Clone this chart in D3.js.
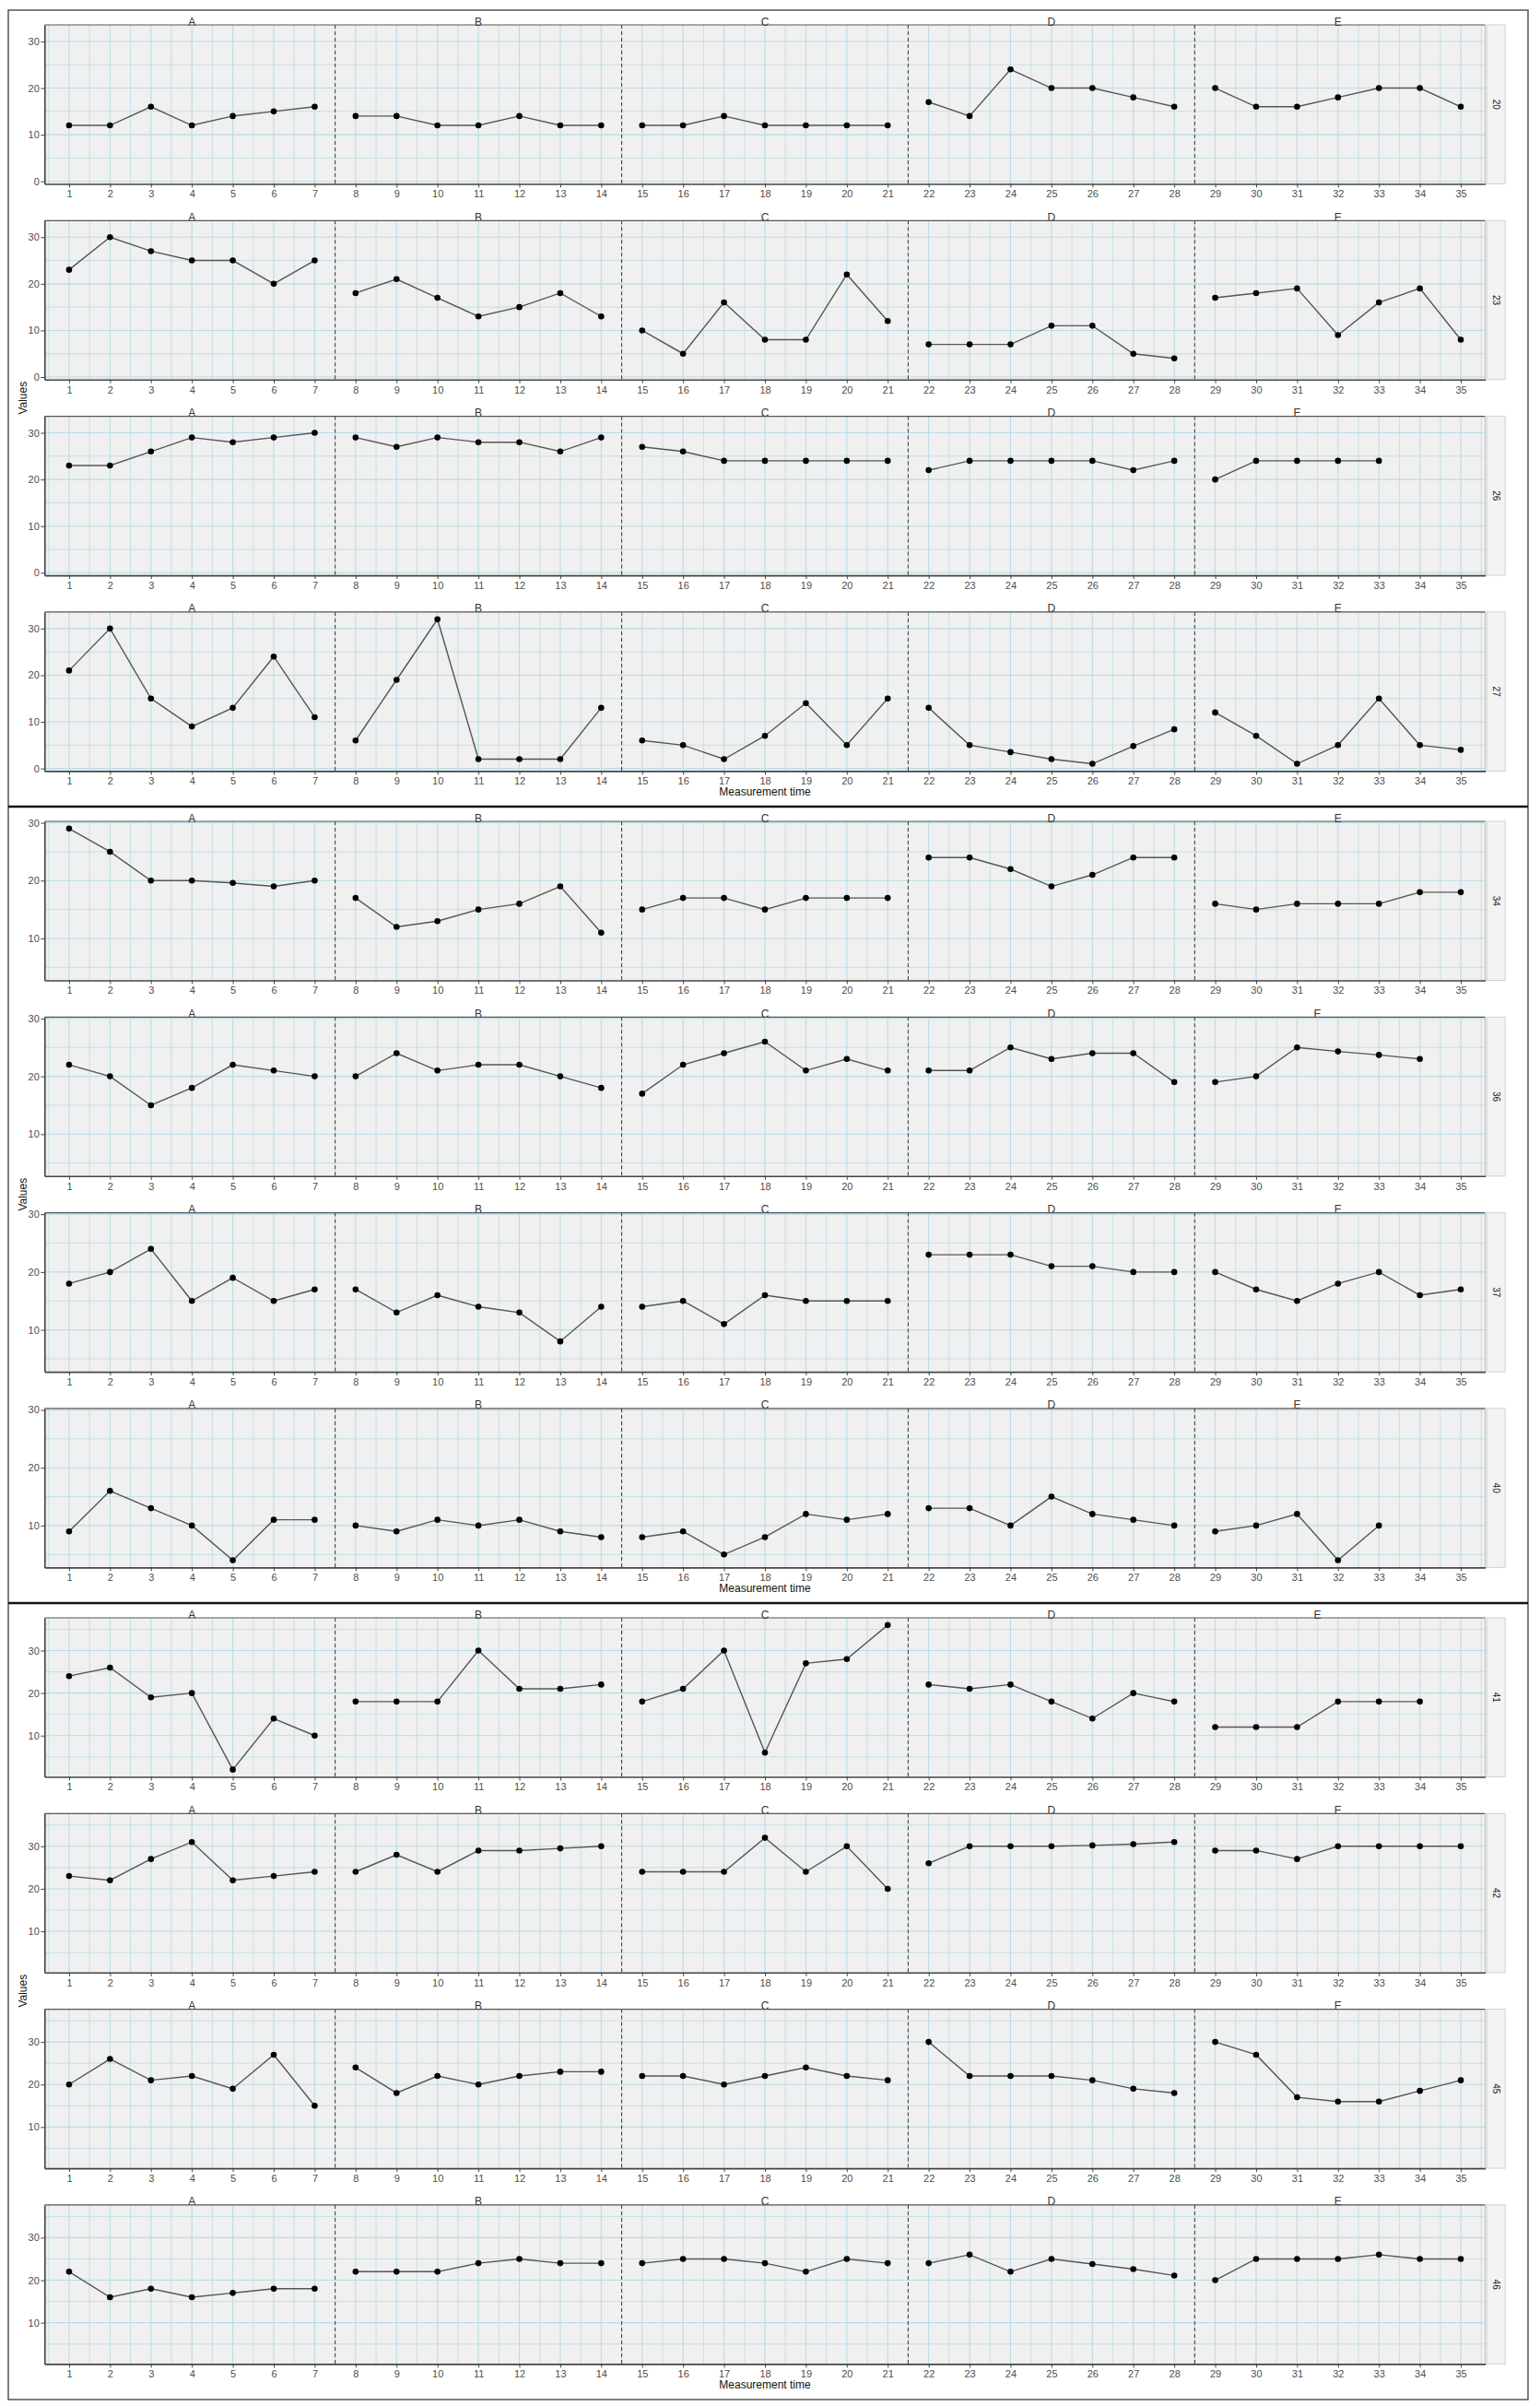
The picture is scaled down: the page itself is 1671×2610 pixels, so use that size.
<!DOCTYPE html>
<html>
<head>
<meta charset="utf-8">
<script src="https://cdn.jsdelivr.net/npm/d3@7"></script>
<style>
  body { margin: 0; background: #fff; }
  svg text { font-family: "Liberation Sans", Arial, sans-serif; }
</style>
</head>
<body>
<div id="chart"></div>
<script>
// ------------------------------- DATA ----------------------------------------
var times = [1, 2, 3, 4, 5, 6, 7, 8, 9, 10, 11, 12, 13, 14, 15, 16, 17, 18,
             19, 20, 21, 22, 23, 24, 25, 26, 27, 28, 29, 30, 31, 32, 33, 34, 35];
var phases = ["A", "B", "C", "D", "E"];
var phaseEnds = [7, 14, 21, 28, 35];       // last measurement time of each phase
var phaseBreaks = [7.5, 14.5, 21.5, 28.5]; // dashed lines
var blocks = [["20", "23", "26", "27"], ["34", "36", "37", "40"], ["41", "42", "45", "46"]];

// one value per measurement time (null = not measured)
var p20 = [12, 12, 16, 12, 14, 15, 16,  14, 14, 12, 12, 14, 12, 12,  12, 12, 14, 12, 12, 12, 12,
           17, 14, 24, 20, 20, 18, 16,  20, 16, 16, 18, 20, 20, 16];
var p23 = [23, 30, 27, 25, 25, 20, 25,  18, 21, 17, 13, 15, 18, 13,  10, 5, 16, 8, 8, 22, 12,
           7, 7, 7, 11, 11, 5, 4,  17, 18, 19, 9, 16, 19, 8];
var p26 = [23, 23, 26, 29, 28, 29, 30,  29, 27, 29, 28, 28, 26, 29,  27, 26, 24, 24, 24, 24, 24,
           22, 24, 24, 24, 24, 22, 24,  20, 24, 24, 24, 24, null, null];
var p27 = [21, 30, 15, 9, 13, 24, 11,  6, 19, 32, 2, 2, 2, 13,  6, 5, 2, 7, 14, 5, 15,
           13, 5, 3.5, 2, 1, 4.8, 8.4,  12, 7, 1, 5, 15, 5, 4];
var p34 = [29, 25, 20, 20, 19.6, 19, 20,  17, 12, 13, 15, 16, 19, 11,  15, 17, 17, 15, 17, 17, 17,
           24, 24, 22, 19, 21, 24, 24,  16, 15, 16, 16, 16, 18, 18];
var p36 = [22, 20, 15, 18, 22, 21, 20,  20, 24, 21, 22, 22, 20, 18,  17, 22, 24, 26, 21, 23, 21,
           21, 21, 25, 23, 24, 24, 19,  19, 20, 25, 24.3, 23.7, 23, null];
var p37 = [18, 20, 24, 15, 19, 15, 17,  17, 13, 16, 14, 13, 8, 14,  14, 15, 11, 16, 15, 15, 15,
           23, 23, 23, 21, 21, 20, 20,  20, 17, 15, 18, 20, 16, 17];
var p40 = [9, 16, 13, 10, 4, 11, 11,  10, 9, 11, 10, 11, 9, 8,  8, 9, 5, 8, 12, 11, 12,
           13, 13, 10, 15, 12, 11, 10,  9, 10, 12, 4, 10, null, null];
var p41 = [24, 26, 19, 20, 2, 14, 10,  18, 18, 18, 30, 21, 21, 22,  18, 21, 30, 6, 27, 28, 36,
           22, 21, 22, 18, 14, 20, 18,  12, 12, 12, 18, 18, 18, null];
var p42 = [23, 22, 27, 31, 22, 23, 24,  24, 28, 24, 29, 29, 29.5, 30,  24, 24, 24, 32, 24, 30, 20,
           26, 30, 30, 30, 30.2, 30.5, 31,  29, 29, 27, 30, 30, 30, 30];
var p45 = [20, 26, 21, 22, 19, 27, 15,  24, 18, 22, 20, 22, 23, 23,  22, 22, 20, 22, 24, 22, 21,
           30, 22, 22, 22, 21, 19, 18,  30, 27, 17, 16, 16, 18.5, 21];
var p46 = [22, 16, 18, 16, 17, 18, 18,  22, 22, 22, 24, 25, 24, 24,  24, 25, 25, 24, 22, 25, 24,
           24, 26, 22, 25, 23.8, 22.6, 21.1,  20, 25, 25, 25, 26, 25, 25];

var series = {"20": p20, "23": p23, "26": p26, "27": p27, "34": p34, "36": p36,
              "37": p37, "40": p40, "41": p41, "42": p42, "45": p45, "46": p46};

// ------------------------------ LAYOUT ---------------------------------------
var svgWidth = 1671, svgHeight = 2610;
var panelLeft = 48.3, panelRight = 1611.7;
var blockTops = [11, 875, 1739];
var rowOffset = 16, rowPitch = 212.3, panelHeight = 172.5;

var gridColor = "#b9dbe7";
var tickColor = "#4d4d4d";

var svg = d3.select("#chart").append("svg")
  .attr("width", svgWidth)
  .attr("height", svgHeight);

var x = d3.scaleLinear().domain([0.4, 35.6]).range([panelLeft, panelRight]);

function phaseIndex(t) {
  return phaseEnds.findIndex(function(e) { return t <= e; });
}

blocks.forEach(function(ids, b) {
  // shared y scale for the block, 5% expansion like ggplot
  var all = [];
  ids.forEach(function(id) {
    series[id].forEach(function(v) { if (v != null) all.push(v); });
  });
  var lo = d3.min(all), hi = d3.max(all), pad = (hi - lo) * 0.05;
  var y = d3.scaleLinear().domain([lo - pad, hi + pad]).range([panelHeight, 0]);
  var major = y.ticks(3);
  var step = major[1] - major[0];
  var minor = [];
  major.forEach(function(m) { minor.push(m - step / 2); });
  minor.push(major[major.length - 1] + step / 2);
  minor = minor.filter(function(m) {
    return m >= y.domain()[0] && m <= y.domain()[1];
  });

  var xMinor = times.map(function(t) { return t - 0.5; }).concat([35.5]);

  ids.forEach(function(id, r) {
    var top = blockTops[b] + rowOffset + r * rowPitch;
    var g = svg.append("g").attr("transform", "translate(0," + top + ")");
    var pts = times.map(function(t, i) {
      return {t: t, v: series[id][i], phase: phaseIndex(t)};
    });

    // panel background
    g.append("rect")
      .attr("x", panelLeft).attr("y", 0)
      .attr("width", panelRight - panelLeft).attr("height", panelHeight)
      .attr("fill", "#f0f0f0");

    // grid
    g.selectAll(null).data(minor).enter().append("line")
      .attr("x1", panelLeft).attr("x2", panelRight)
      .attr("y1", d => y(d)).attr("y2", d => y(d))
      .attr("stroke", gridColor).attr("stroke-width", 0.8);
    g.selectAll(null).data(major).enter().append("line")
      .attr("x1", panelLeft).attr("x2", panelRight)
      .attr("y1", d => y(d)).attr("y2", d => y(d))
      .attr("stroke", gridColor).attr("stroke-width", 1.1);
    g.selectAll(null).data(xMinor).enter().append("line")
      .attr("x1", d => x(d)).attr("x2", d => x(d))
      .attr("y1", 0).attr("y2", panelHeight)
      .attr("stroke", gridColor).attr("stroke-width", 0.8);
    g.selectAll(null).data(times).enter().append("line")
      .attr("x1", d => x(d)).attr("x2", d => x(d))
      .attr("y1", 0).attr("y2", panelHeight)
      .attr("stroke", gridColor).attr("stroke-width", 1.1);

    // phase separators
    g.selectAll(null).data(phaseBreaks).enter().append("line")
      .attr("x1", d => x(d)).attr("x2", d => x(d))
      .attr("y1", 0).attr("y2", panelHeight)
      .attr("stroke", "#444").attr("stroke-width", 1.1)
      .attr("stroke-dasharray", "4,3");

    // lines, one per phase
    var line = d3.line()
      .defined(d => d.v != null)
      .x(d => x(d.t))
      .y(d => y(d.v));
    phases.forEach(function(p, k) {
      g.append("path")
        .datum(pts.filter(d => d.phase === k))
        .attr("fill", "none")
        .attr("stroke", "#555")
        .attr("stroke-width", 1.4)
        .attr("d", line);
    });

    // points
    g.selectAll(null).data(pts.filter(d => d.v != null)).enter().append("circle")
      .attr("cx", d => x(d.t)).attr("cy", d => y(d.v))
      .attr("r", 3.3).attr("fill", "#000");

    // phase labels at the centre of the measured times
    phases.forEach(function(p, k) {
      var ts = pts.filter(d => d.phase === k && d.v != null).map(d => d.t);
      g.append("text")
        .attr("x", x(d3.mean(ts))).attr("y", 0.5)
        .attr("text-anchor", "middle")
        .attr("font-size", "12px")
        .attr("fill", "#333")
        .text(p);
    });

    // panel borders
    g.append("line").attr("x1", panelLeft).attr("x2", panelRight)
      .attr("y1", 0).attr("y2", 0).attr("stroke", "#555").attr("stroke-width", 1.2);
    g.append("line").attr("x1", panelRight).attr("x2", panelRight)
      .attr("y1", 0).attr("y2", panelHeight).attr("stroke", "#bbb").attr("stroke-width", 1);

    // axes
    var yAxis = d3.axisLeft(y).tickValues(major).tickSize(4).tickSizeOuter(0).tickPadding(1.5);
    var xAxis = d3.axisBottom(x).tickValues(times).tickSize(4).tickSizeOuter(0).tickPadding(3);
    var ya = g.append("g").attr("transform", "translate(" + panelLeft + ",0)").call(yAxis);
    var xa = g.append("g").attr("transform", "translate(0," + panelHeight + ")").call(xAxis);
    [ya, xa].forEach(function(a) {
      a.select(".domain").attr("stroke", "#444").attr("stroke-width", 1.6);
      a.selectAll(".tick line").attr("stroke", "#444").attr("stroke-width", 1);
      a.selectAll(".tick text").attr("fill", tickColor).attr("font-size", "11px")
        .attr("font-family", "'Liberation Sans', Arial, sans-serif");
    });

    // strip on the right
    g.append("rect")
      .attr("x", panelRight + 1.5).attr("y", 0)
      .attr("width", 20).attr("height", panelHeight)
      .attr("fill", "#f3f3f3").attr("stroke", "#d0d0d0").attr("stroke-width", 1);
    g.append("text")
      .attr("transform", "translate(" + (panelRight + 8) + "," + (panelHeight / 2) + ") rotate(90)")
      .attr("text-anchor", "middle")
      .attr("font-size", "10px")
      .attr("fill", "#1a1a1a")
      .text(id);
  });

  // axis titles
  var firstTop = blockTops[b] + rowOffset;
  var lastBottom = firstTop + 3 * rowPitch + panelHeight;
  svg.append("text")
    .attr("transform", "translate(28.5," + ((firstTop + lastBottom) / 2) + ") rotate(-90)")
    .attr("text-anchor", "middle")
    .attr("font-size", "12px")
    .attr("fill", "#111")
    .text("Values");
  svg.append("text")
    .attr("x", (panelLeft + panelRight) / 2)
    .attr("y", lastBottom + 26.5)
    .attr("text-anchor", "middle")
    .attr("font-size", "12px")
    .attr("fill", "#111")
    .text("Measurement time");
});

// frame and block separators
svg.append("rect")
  .attr("x", 9).attr("y", 11).attr("width", 1649).attr("height", 2592)
  .attr("fill", "none").attr("stroke", "#555").attr("stroke-width", 1.5);
svg.selectAll(null).data([875, 1739]).enter().append("line")
  .attr("x1", 9).attr("x2", 1658)
  .attr("y1", d => d).attr("y2", d => d)
  .attr("stroke", "#111").attr("stroke-width", 2.5);
</script>
</body>
</html>
